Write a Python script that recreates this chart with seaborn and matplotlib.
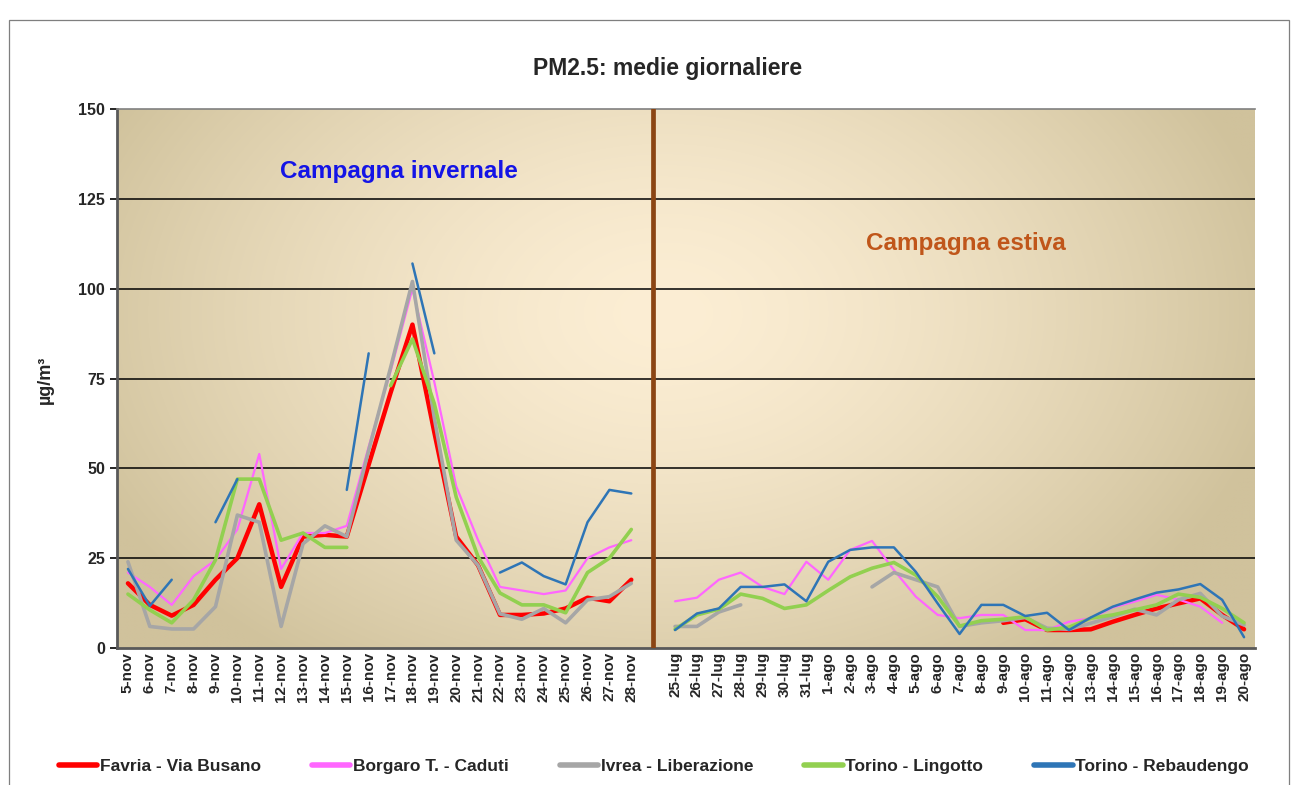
import numpy as np
import pandas as pd
import matplotlib
matplotlib.use('Agg')
import matplotlib.pyplot as plt
from matplotlib.lines import Line2D
import seaborn as sns

sns.set_style('white')
plt.rcParams['font.family'] = ['Liberation Sans', 'DejaVu Sans']

# etichette giorni
giorni_inv = [f'{d}-nov' for d in range(5, 29)]
giorni_est = [f'{d}-lug' for d in range(25, 32)] + [f'{d}-ago' for d in range(1, 21)]

nan = np.nan
# PM2.5 medie giornaliere (ug/m3) - campagna invernale (5-28 nov)
favria_inv = [18, 12, 9, 12, 19, 25, 40, 17, 31, 31.5, 31, 51, 71, 90, 60, 31, 23, 9.2, 9.2, 9.6, 11, 14, 13, 19]
borgaro_inv = [21, 17, 12, 20, 24.5, 33, 54, 22, 32, 32, 34, 56, 77, 100, 74, 45, 30, 17, 16, 15, 16, 25, 28, 30]
ivrea_inv = [24, 6, 5.3, 5.3, 11.5, 37, 35, 6, 29, 34, 31, 55, 78, 102, 64, 30, 23, 9.5, 8, 11, 7, 13.4, 14.3, 18]
lingotto_inv = [15, 10.6, 7, 13.4, 24.5, 47, 47, 30, 32, 28, 28, nan, 73, 86, 68, 42, 25.4, 15.3, 12, 12, 9.8, 21, 25, 33]
rebaudengo_inv = [22, 11.7, 19, nan, 35, 47, nan, nan, nan, nan, 44, 82, nan, 107, 82, nan, nan, 21, 23.8, 20, 17.7, 35, 44, 43]

# campagna estiva (25 lug - 20 ago)
favria_est = [nan, nan, nan, nan, nan, nan, nan,
              nan, nan, nan, nan, nan, nan, nan, nan, 7, 8, 5, 5, 5.2, 7.3, 9.2, 11, 12.4, 13.8, 9.2, 5.2]
borgaro_est = [13, 14, 19, 21, 17, 15, 24,
               19, 27.3, 29.8, 21.7, 14.3, 9.2, 8.3, 9.2, 9.2, 5, 5, 7.3, 8.3, 11.3, 12.9, 14.8, 13.5, 11.5, 7, nan]
ivrea_est = [6, 6, 10, 12, nan, nan, nan,
             nan, nan, 17, 21, 19, 17, 6, 7, 7.6, 8.5, 5.5, 5.2, 6.9, 8.7, 10.8, 9.2, 13.4, 15.2, 8.9, 6.4]
lingotto_est = [5.2, 9.2, 10.8, 15, 13.8, 11, 12,
                16, 19.8, 22.2, 23.8, 20.3, 14.3, 6.1, 7.6, 8, 8.7, 5, 5.8, 8.3, 9.2, 10.6, 12, 15, 14.1, 11, 7]
rebaudengo_est = [5, 9.6, 11, 17, 17, 17.7, 13,
                  24, 27.3, 28, 28, 21.2, 12.4, 3.9, 12, 12, 8.9, 9.8, 5, 8.5, 11.5, 13.5, 15.4, 16.3, 17.8, 13.4, 3]

stazioni = ['Favria - Via Busano', 'Borgaro T. - Caduti', 'Ivrea - Liberazione',
            'Torino - Lingotto', 'Torino - Rebaudengo']
colori = ['#FF0000', '#FF66FF', '#A6A6A6', '#92D050', '#2E75B6']
spessori = [3.2, 1.6, 2.6, 2.6, 1.8]

serie = [(favria_inv, favria_est), (borgaro_inv, borgaro_est), (ivrea_inv, ivrea_est),
         (lingotto_inv, lingotto_est), (rebaudengo_inv, rebaudengo_est)]

etichette = giorni_inv + [''] + giorni_est
pos_gap = len(giorni_inv)

# dataframe lungo, con un id di segmento per interrompere le linee sui dati mancanti
righe = []
for nome, (inv, est) in zip(stazioni, serie):
    vals = inv + [nan] + est
    seg = 0
    for i, v in enumerate(vals):
        if np.isnan(v):
            seg += 1
            continue
        righe.append({'stazione': nome, 'pos': i, 'val': v, 'seg': seg})
df = pd.DataFrame(righe)

fig = plt.figure(figsize=(12.95, 7.85), dpi=100)
ax = fig.add_axes([117 / 1295, 1 - 648 / 785, (1255 - 117) / 1295, (648 - 109) / 785])

# sfondo sfumato
nx, ny = 300, 200
gx, gy = np.meshgrid(np.linspace(0, 1, nx), np.linspace(0, 1, ny))
t = np.sqrt(((gx - 0.48) / 0.55) ** 2 + ((gy - 0.62) / 0.8) ** 2)
t = np.clip(t, 0, 1) ** 1.5
chiaro = np.array([252, 238, 212]) / 255
scuro = np.array([208, 194, 156]) / 255
img = chiaro[None, None, :] * (1 - t[..., None]) + scuro[None, None, :] * t[..., None]
ax.imshow(img, extent=(-0.5, len(etichette) - 0.5, 0, 150), origin='lower',
          aspect='auto', zorder=0, interpolation='bilinear')

for yv in [25, 50, 75, 100, 125]:
    ax.axhline(yv, color='black', lw=1.1, zorder=1)
ax.axvline(pos_gap, color='#8B4513', lw=3.4, zorder=3)

for nome, c, lw in zip(stazioni, colori, spessori):
    sns.lineplot(data=df[df['stazione'] == nome], x='pos', y='val', units='seg',
                 estimator=None, color=c, linewidth=lw, ax=ax, zorder=2)

ax.set_xlim(-0.5, len(etichette) - 0.5)
ax.set_ylim(0, 150)
ax.set_xticks(range(len(etichette)))
ax.set_xticklabels(etichette, rotation=90, fontsize=11, fontweight='bold')
ax.set_xticks(np.arange(-0.5, len(etichette), 1), minor=True)
ax.tick_params(axis='x', which='major', length=0, pad=3)
ax.tick_params(axis='x', which='minor', length=6, width=1.2, color='black', direction='out')
ax.set_yticks([0, 25, 50, 75, 100, 125, 150])
ax.set_yticklabels(['0', '25', '50', '75', '100', '125', '150'], fontsize=11.5, fontweight='bold')
ax.tick_params(axis='y', length=5, width=1.2, color='black', direction='out', left=True)
ax.set_xlabel('')
ax.set_ylabel('')
for lato in ['left', 'bottom']:
    ax.spines[lato].set_color('#595959')
    ax.spines[lato].set_linewidth(2)
ax.spines['top'].set_color('#808080')
ax.spines['top'].set_linewidth(1.2)
ax.spines['right'].set_visible(False)

ax.text(12.4, 132.5, 'Campagna invernale', color='#1414E6', fontsize=17.5,
        fontweight='bold', ha='center', va='center', zorder=4)
ax.text(38.3, 112.7, 'Campagna estiva', color='#C0561A', fontsize=17.5,
        fontweight='bold', ha='center', va='center', zorder=4)

fig.text(668 / 1295, 1 - 68 / 785, 'PM2.5: medie giornaliere', fontsize=16.5,
         fontweight='bold', ha='center', va='center')
fig.text(45 / 1295, 1 - 380 / 785, 'µg/m³', fontsize=13, fontweight='bold',
         rotation=90, ha='center', va='center')

maniglie = [Line2D([0], [0], color=c, lw=4) for c in colori]
fig.legend(maniglie, stazioni, loc='center', bbox_to_anchor=(654 / 1295, 1 - 766 / 785),
           ncol=5, frameon=False, handlelength=2.2, columnspacing=2.95, handletextpad=0.15,
           prop={'weight': 'bold', 'size': 12.5})

bordo = plt.Rectangle((9 / 1295, -0.02), 1280 / 1295, 1 - 20 / 785 + 0.02, transform=fig.transFigure,
                      fill=False, edgecolor='#7F7F7F', lw=0.9)
fig.patches.append(bordo)

fig.savefig('out.png', dpi=100)
